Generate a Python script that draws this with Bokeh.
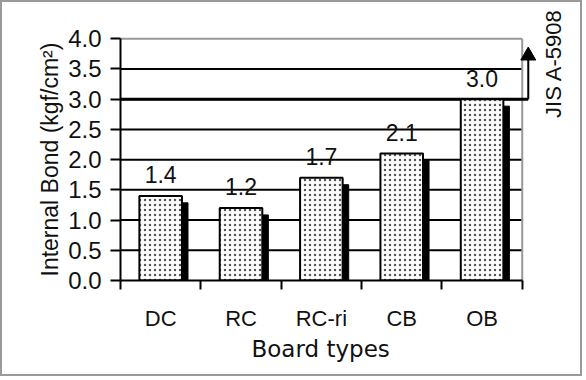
from bokeh.plotting import figure
from bokeh.models import Range1d, FixedTicker, LinearAxis, ColumnDataSource, Title
from bokeh.embed import file_html
from bokeh.resources import INLINE
from bokeh.core.properties import value

# ---- data ----
categories = ["DC", "RC", "RC-ri", "CB", "OB"]
internal_bond = [1.4, 1.2, 1.7, 2.1, 3.0]
y_ticks = [0.0, 0.5, 1.0, 1.5, 2.0, 2.5, 3.0, 3.5, 4.0]
jis_standard = 3.0
jis_label = "JIS A-5908"
x_title = "Board types"
y_title = "Internal Bond (kgf/cm²)"

FONT = "Liberation Sans"
INK = "#111111"

n = len(categories)
Y_MAX = y_ticks[-1]
centers = [i + 0.5 for i in range(n)]
bounds = [float(i) for i in range(n + 1)]

src = ColumnDataSource(dict(
    x=centers,
    top=internal_bond,
    xs=[c + 0.075 for c in centers],
    tops=[v - 0.115 for v in internal_bond],
    label=["%.1f" % v for v in internal_bond],
))

W, H = 582, 376
X_END = n + 0.75
Y_END = 4.6
p = figure(width=W, height=H, output_backend="svg", toolbar_location=None,
           x_range=Range1d(0, X_END), y_range=Range1d(0, Y_END),
           min_border_left=118, min_border_right=2, min_border_top=0,
           min_border_bottom=98, x_axis_type=None)
p.styles = {"border": "2px solid #9a9a9a"}
p.background_fill_color = "white"
p.border_fill_color = "white"
p.outline_line_color = None
p.xgrid.visible = False
p.ygrid.visible = False

# y axis
ya = p.yaxis[0]
ya.bounds = (0, Y_MAX)
ya.ticker = FixedTicker(ticks=y_ticks)
ya.major_label_overrides = {t: "%.1f" % t for t in y_ticks}
ya.major_label_text_font = FONT
ya.major_label_text_font_size = "24px"
ya.major_label_text_color = INK
ya.major_label_standoff = 9
ya.major_tick_in = 0
ya.major_tick_out = 10
ya.minor_tick_line_color = None
ya.axis_line_width = 2
ya.major_tick_line_width = 2
ya.axis_line_color = "black"

# y axis title, starting at the bottom of the axis
p.add_layout(Title(text=y_title, align="left", offset=4,
                   text_font=FONT, text_font_size="23px",
                   text_font_style="normal", text_color=INK,
                   standoff=6), "left")

# x axis
xa = LinearAxis(ticker=FixedTicker(ticks=centers, minor_ticks=bounds))
xa.bounds = (0, n)
xa.major_label_overrides = {c: cat for c, cat in zip(centers, categories)}
xa.major_label_text_font = FONT
xa.major_label_text_font_size = "22px"
xa.major_label_text_color = INK
xa.major_label_standoff = 16
xa.major_tick_line_color = None
xa.major_tick_in = 0
xa.major_tick_out = 9
xa.minor_tick_in = 0
xa.minor_tick_out = 9
xa.minor_tick_line_width = 2
xa.minor_tick_line_color = "black"
xa.axis_line_width = 2
xa.axis_line_color = "black"
p.add_layout(xa, "below")

# x axis title, placed under the 0..n axis
p.add_layout(Title(text=x_title, align="left", offset=131,
                   text_font="DejaVu Sans", text_font_size="23px",
                   text_font_style="normal", text_color=INK,
                   standoff=0), "below")

# grid lines (inside the plot box only)
grid_vals = [t for t in y_ticks if 0 < t < Y_MAX]
p.segment(x0=[0] * len(grid_vals), x1=[n] * len(grid_vals),
          y0=grid_vals, y1=grid_vals, line_color="black", line_width=2)
# plot box: gray top and right edges
p.segment(x0=[0, n], y0=[Y_MAX, 0], x1=[n, n], y1=[Y_MAX, Y_MAX],
          line_color="#999999", line_width=2)

# JIS standard line and arrow
x_arrow = n + 0.075
p.segment(x0=[0, x_arrow], y0=[jis_standard, jis_standard],
          x1=[x_arrow, x_arrow], y1=[jis_standard, jis_standard + 0.65],
          line_color="black", line_width=[3, 2])
p.scatter(x=[x_arrow], y=[jis_standard + 0.72], marker="triangle", size=15,
          fill_color="black", line_color="black")

# shadows
p.vbar(x="xs", top="tops", bottom=0, width=0.53, source=src,
       fill_color="black", line_color="black")
# bars
p.vbar(x="x", top="top", bottom=0, width=0.53, source=src,
       fill_color="white", line_color="black", line_width=2,
       hatch_pattern="dot", hatch_color="#555555", hatch_scale=5,
       hatch_weight=1)

# value labels
p.text(x="x", y="top", text="label", source=src, text_font=value(FONT),
       text_font_size="23px", text_align="center",
       text_baseline="alphabetic", y_offset=-21, text_color=INK)

# JIS label
p.text(x=[n + 0.385], y=[3.59], text=[jis_label], angle=1.5708,
       text_font=value(FONT), text_font_size="22px", text_align="center",
       text_baseline="middle", text_color=INK)

open("out.html", "w").write(file_html(p, INLINE))
